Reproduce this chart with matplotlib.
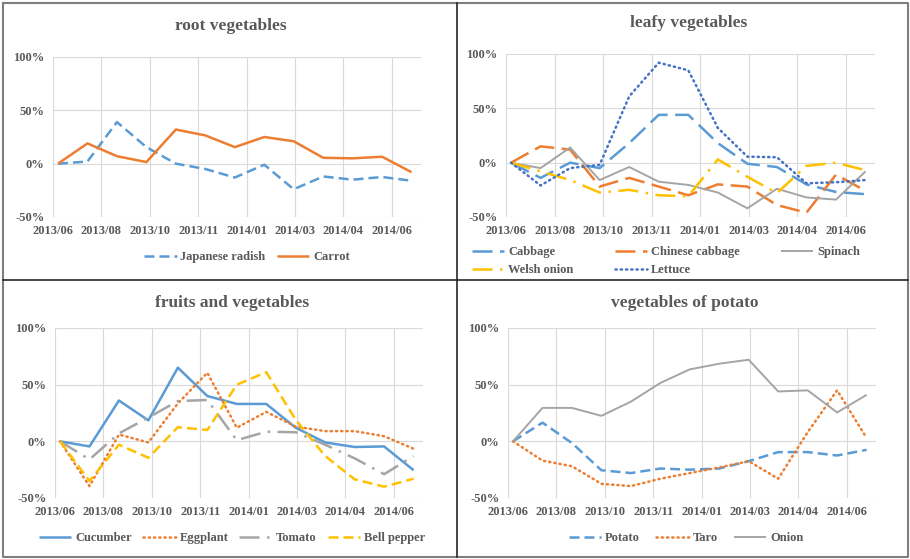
import matplotlib
matplotlib.use('Agg')
import matplotlib.pyplot as plt
from matplotlib.lines import Line2D

plt.rcParams['font.family'] = ['Liberation Serif', 'DejaVu Serif']
plt.rcParams['font.weight'] = 'bold'

# 13 monthly points, 2013/06 .. 2014/06
months = list(range(13))
tick_labels = ['2013/06', '2013/08', '2013/10', '2013/11',
               '2014/01', '2014/03', '2014/04', '2014/06']

# root vegetables (%)
japanese_radish = [0, 2, 39, 15.5, 0, -5, -13, -1, -24, -12, -15, -12.5, -16]
carrot = [0, 19, 7, 1.5, 32, 26.5, 15.5, 25, 21, 5.5, 5, 6.5, -8]

# leafy vegetables (%)
cabbage = [0, -14, 0, -5, 18, 44, 44, 18, -1, -4, -20, -27, -29]
chinese_cabbage = [0, 15, 12, -22, -14, -22, -30, -20, -22, -39, -46, -11, -26]
spinach = [0, -5, 14, -16, -4, -17.5, -20.5, -27.5, -42, -24, -32, -34, -8]
welsh_onion = [0, -8, -16, -27.5, -25, -30, -31, 3, -13, -28, -3, 0, -7]
lettuce = [0, -21, -5, -2, 61, 92, 85, 32, 5.5, 5, -19, -18, -16]

# fruits and vegetables (%)
cucumber = [0, -4.5, 36, 18.5, 65, 40, 33, 33, 12, -1, -5, -4.5, -25.5]
eggplant = [0, -39.5, 6, -1, 33.5, 60.5, 12, 26, 13, 9, 9, 4.5, -6.5]
tomato = [0, -16, 7, 21, 35.5, 36.5, 1, 8.5, 8, -3, -15, -29, -13]
bell_pepper = [0, -35, -3, -14.5, 12.5, 10, 50, 61, 19, -13, -33.5, -40, -33]

# vegetables of potato (%)
potato = [0, 16.5, -1.5, -25.5, -28, -24, -25, -24, -17.5, -9.5, -9.5, -12.5, -7.5]
taro = [0, -17, -22, -37.5, -39.5, -33, -28, -23, -17.5, -33, 8, 45, 3]
onion = [0, 29.5, 29.5, 22.5, 35, 51.5, 63.5, 68.5, 72, 44, 45, 25.5, 41]

BLUE = '#5B9BD5'
ORANGE = '#ED7D31'
GRAY = '#A5A5A5'
YELLOW = '#FFC000'
DBLUE = '#4472C4'
TXT = '#595959'

SOLID = None
DASH = (4, 2)
LONGDASH = (8, 3)
LONGDASHDOT = (8, 3, 1, 3)
DOT = (0.5, 1.6)

W, H = 910, 559
fig = plt.figure(figsize=(W / 100, H / 100), dpi=100)


def px_axes(x0, y0, x1, y1):
    return fig.add_axes([x0 / W, 1 - y1 / H, (x1 - x0) / W, (y1 - y0) / H])


def draw_panel(box, title, title_xy, series, legend_xy, ncol, colsp,
               order=None):
    ax = px_axes(*box)
    for name, vals, color, dash, lw in series:
        line, = ax.plot(months, vals, color=color, lw=lw, label=name,
                        solid_capstyle='butt')
        if dash is not None:
            line.set_dashes(dash)
            if dash == DOT:
                line.set_dash_capstyle('round')
    ax.set_xlim(-0.17, 12.32)
    ax.set_ylim(-50, 100)
    ax.set_xticks([-0.17 + 1.643 * k for k in range(len(tick_labels))])
    ax.set_xticklabels(tick_labels)
    ax.set_yticks([-50, 0, 50, 100])
    ax.set_yticklabels(['-50%', '0%', '50%', '100%'])
    ax.grid(True, color='#D9D9D9', lw=0.8)
    ax.set_axisbelow(True)
    for s in ax.spines.values():
        s.set_visible(False)
    ax.tick_params(length=0, labelsize=9, labelcolor=TXT, pad=6)
    for t in ax.get_xticklabels() + ax.get_yticklabels():
        t.set_fontweight('bold')
    fig.text(title_xy[0] / W, 1 - title_xy[1] / H, title, ha='center',
             va='center', fontsize=12.5, fontweight='bold', color=TXT)
    handles = ax.get_lines()
    if order is not None:
        handles = [handles[i] for i in order]
    leg = fig.legend(handles=handles, loc='center',
                     bbox_to_anchor=(legend_xy[0] / W, 1 - legend_xy[1] / H),
                     ncol=ncol, frameon=False, fontsize=9, handlelength=2.6,
                     handletextpad=0.3, columnspacing=colsp, labelspacing=0.5)
    for t in leg.get_texts():
        t.set_color(TXT)
        t.set_fontweight('bold')
    return ax


draw_panel((53, 57, 421, 217), 'root vegetables', (231, 26),
           [('Japanese radish', japanese_radish, BLUE, DASH, 1.8),
            ('Carrot', carrot, ORANGE, SOLID, 1.8)],
           (247, 257), 2, 0.9)

# legend filled row by row like the original
draw_panel((506, 54, 875, 217), 'leafy vegetables', (689, 23),
           [('Cabbage', cabbage, BLUE, LONGDASH, 1.8),
            ('Chinese cabbage', chinese_cabbage, ORANGE, LONGDASH, 1.8),
            ('Spinach', spinach, GRAY, SOLID, 1.4),
            ('Welsh onion', welsh_onion, YELLOW, LONGDASHDOT, 1.8),
            ('Lettuce', lettuce, DBLUE, DOT, 1.8)],
           (666, 261), 3, 3.3, order=[0, 3, 1, 4, 2])

draw_panel((55, 328, 423, 498), 'fruits and vegetables', (232, 303),
           [('Cucumber', cucumber, BLUE, SOLID, 1.8),
            ('Eggplant', eggplant, ORANGE, DOT, 1.8),
            ('Tomato', tomato, GRAY, LONGDASHDOT, 1.8),
            ('Bell pepper', bell_pepper, YELLOW, DASH, 1.8)],
           (232, 538), 4, 0.9)

draw_panel((508, 328, 876, 498), 'vegetables of potato', (685, 303),
           [('Potato', potato, BLUE, DASH, 1.8),
            ('Taro', taro, ORANGE, DOT, 1.8),
            ('Onion', onion, GRAY, SOLID, 1.4)],
           (686, 538), 3, 1.3)

# panel frames
def fig_line(xs, ys, color, lw):
    fig.add_artist(Line2D([x / W for x in xs], [1 - y / H for y in ys],
                          color=color, lw=lw))

fig_line([3, 908, 908, 3, 3], [3, 3, 557, 557, 3], '#7F7F7F', 1.5)
fig_line([457, 457], [3, 557], '#262626', 1.2)
fig_line([3, 908], [280, 280], '#262626', 1.2)

fig.savefig('out.png', dpi=100, facecolor='white')
